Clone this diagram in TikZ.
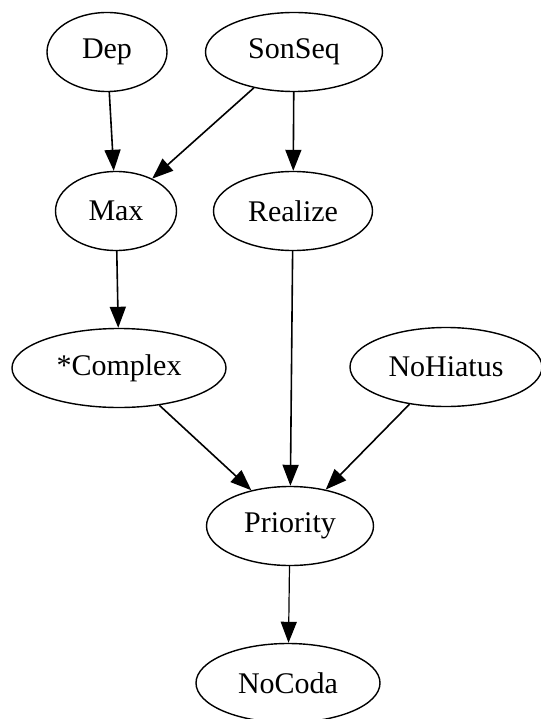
\documentclass[tikz,border=0pt]{standalone}
\usepackage{fontspec}
\setmainfont{Liberation Serif}
\usetikzlibrary{shapes.geometric,arrows.meta}
\begin{document}
\begin{tikzpicture}[x=1pt,y=-1pt,
  con/.style={ellipse,draw,line width=1.4pt,inner sep=0pt,minimum height=79pt,
    font=\fontsize{30}{36}\selectfont},
  rank/.style={line width=1.6pt,-{Triangle[length=21pt,width=16pt]}}]
\useasboundingbox (0,0) rectangle (540,719);
\coordinate (A) at (107,52);
\coordinate (B) at (294,52);
\coordinate (C) at (116,211);
\coordinate (D) at (293,211);
\coordinate (E) at (119,368);
\coordinate (F) at (446,367);
\coordinate (G) at (290,526);
\coordinate (H) at (288,683);

\node[con, minimum width=120pt] (Dep) at (A) {Dep};
\node[con, minimum width=177pt] (SonSeq) at (B) {SonSeq};
\node[con, minimum width=121pt] (Max) at (C) {Max};
\node[con, minimum width=159pt] (Realize) at (D) {Realize};
\node[con, minimum width=214pt] (Complex) at (E) {*Complex};
\node[con, minimum width=192pt] (NoHiatus) at (F) {NoHiatus};
\node[con, minimum width=167pt] (Priority) at (G) {Priority};
\node[con, minimum width=184pt] (NoCoda) at (H) {NoCoda};

\draw[rank] (Dep) -- (Max);
\draw[rank] (SonSeq) -- (Max);
\draw[rank] (SonSeq) -- (Realize);
\draw[rank] (Max) -- (Complex);
\draw[rank] (Realize) -- (Priority);
\draw[rank] (Complex) -- (Priority);
\draw[rank] (NoHiatus) -- (Priority);
\draw[rank, line width=1.2pt] (Priority) -- (NoCoda);
\end{tikzpicture}
\end{document}
